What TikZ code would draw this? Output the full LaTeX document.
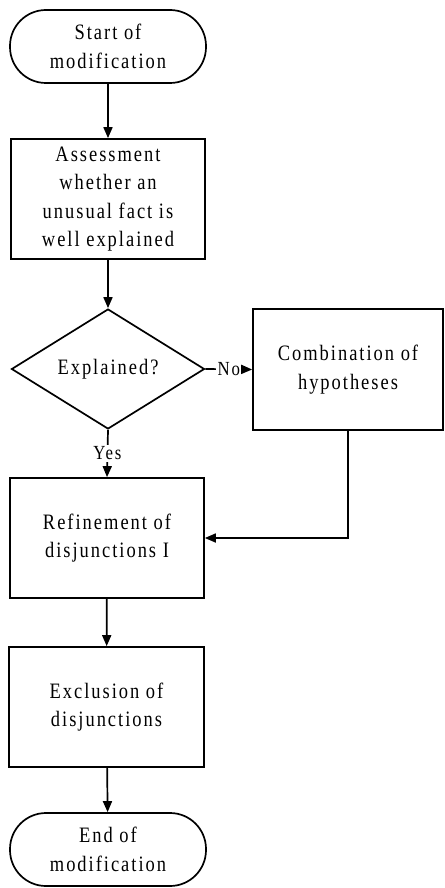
\documentclass[tikz,border=0pt]{standalone}
\usepackage{fontspec}
\setmainfont[LetterSpace=9,FakeStretch=0.84]{Liberation Serif}
\usetikzlibrary{shapes.geometric,arrows.meta}
\begin{document}
\begin{tikzpicture}[x=1pt,y=-1pt,
  every node/.style={font=\fontsize{22}{28.5}\selectfont, align=center, inner sep=0pt},
  box/.style={draw, line width=1.7pt, rectangle, minimum width=194pt, minimum height=120pt},
  term/.style={draw, line width=1.7pt, rectangle, rounded corners=36pt, minimum width=196pt, minimum height=73pt},
  decision/.style={draw, line width=1.7pt, diamond, aspect=1.608, minimum width=193pt, minimum height=120pt},
  conn/.style={line width=1.7pt, -{Triangle[length=11pt,width=9pt]}},
  lbl/.style={fill=white, inner sep=1.5pt, font=\fontsize{20}{22}\selectfont}
]
\useasboundingbox (0,0) rectangle (444,888);
\node[term] (start) at (108,46.5) {Start of\\modification};
\node[box] (assess) at (108,199) {Assessment\\whether an\\unusual fact is\\well explained};
\node[decision] (dec) at (108,369) {Explained?};
\node[box, minimum width=190pt, minimum height=121pt] (comb) at (348,369.5) {Combination of\\hypotheses};
\node[box] (refine) at (107,538) {Refinement of\\disjunctions I};
\node[box, minimum width=195pt] (excl) at (106.5,707) {Exclusion of\\disjunctions};
\node[term] (end) at (108,849.5) {End of\\modification};
\draw[conn] (start) -- (assess);
\draw[conn] (assess) -- (dec);
\draw[conn] (dec.east) -- node[lbl] {No} (comb.west);
\draw[conn] (dec.south) -- node[lbl] {Yes} (refine.north);
\draw[conn] (comb.south) |- (refine.east);
\draw[conn] (refine) -- (excl);
\draw[conn] (excl) -- (end);
\end{tikzpicture}
\end{document}
